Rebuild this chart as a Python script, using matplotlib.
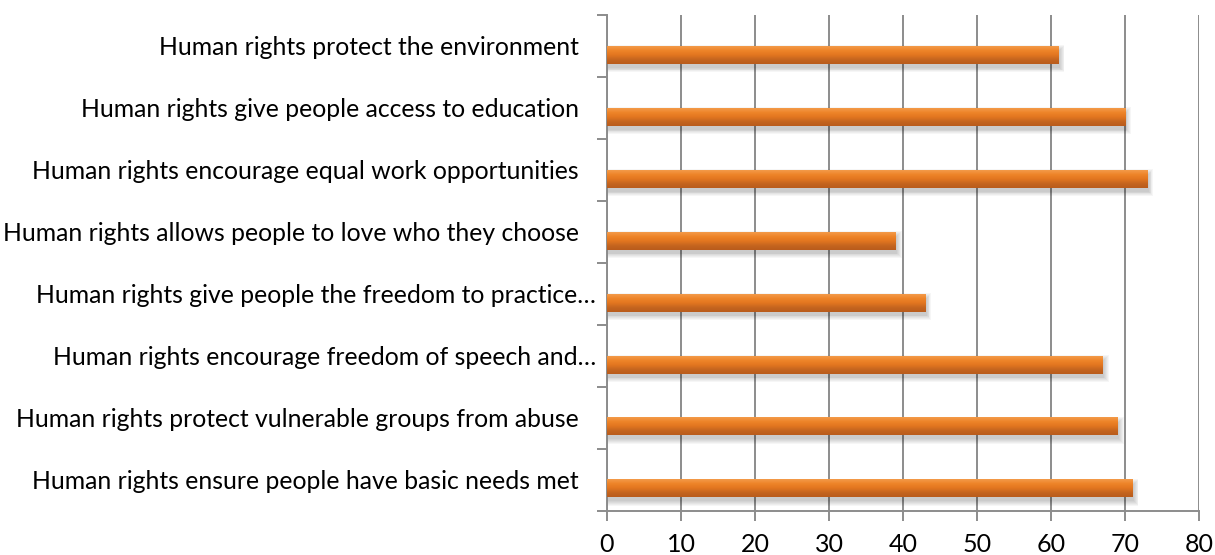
import numpy as np
import matplotlib
matplotlib.use("Agg")
import matplotlib.pyplot as plt
import matplotlib.transforms as mtransforms
from matplotlib.colors import LinearSegmentedColormap
from matplotlib.patches import Rectangle

plt.rcParams['font.family'] = ['Lato', 'DejaVu Sans']

# statements, top to bottom
statements = [
    "Human rights protect the environment",
    "Human rights give people access to education",
    "Human rights encourage equal work opportunities",
    "Human rights allows people to love who they choose",
    "Human rights give people the freedom to practice…",
    "Human rights encourage freedom of speech and…",
    "Human rights protect vulnerable groups from abuse",
    "Human rights ensure people have basic needs met",
]
values = [61, 70, 73, 39, 43, 67, 69, 71]
x_ticks = [0, 10, 20, 30, 40, 50, 60, 70, 80]

GRID = '#8c8c8c'
bar_cmap = LinearSegmentedColormap.from_list(
    'bar', ['#f39a4a', '#ee8428', '#e27620', '#c5651f', '#b95c1c'])

fig = plt.figure(figsize=(12.15, 5.55), dpi=100)
ax = fig.add_axes([607 / 1215, 1 - 510.7 / 555, 592 / 1215, 495.7 / 555])

bar_h = 0.286
bar_off = 0.143
px_x = 80 / 592.0
px_y = 8 / 495.7

grad = np.linspace(0, 1, 64).reshape(-1, 1)
for i, v in enumerate(values):
    yc = i + bar_off
    # soft drop shadow
    for k in range(6):
        grow = k * 0.9
        ax.add_patch(Rectangle((0, yc - bar_h / 2 + 4 * px_y - grow * px_y),
                               v + (1.5 + grow) * px_x,
                               bar_h + 2 * grow * px_y,
                               color='#000000', alpha=0.035, lw=0, zorder=2))
    ax.imshow(grad, cmap=bar_cmap, aspect='auto', origin='upper',
              extent=(0, v, yc + bar_h / 2, yc - bar_h / 2),
              interpolation='bilinear', zorder=3)

ax.set_xlim(0, 80)
ax.set_ylim(7.5, -0.5)

ax.set_xticks(x_ticks)
ax.set_xticklabels([str(t) for t in x_ticks])
ax.xaxis.grid(True, color=GRID, lw=1.4)
ax.set_axisbelow(True)

ax.set_yticks(np.arange(len(statements)))
ax.set_yticklabels(statements)
ax.set_yticks(np.arange(-0.5, len(statements)), minor=True)
ax.tick_params(axis='y', which='major', length=0, pad=8, labelsize=17.8)
ax.tick_params(axis='y', which='minor', length=7, width=1.4, color=GRID)
ax.tick_params(axis='x', length=7, width=1.4, color=GRID, pad=9, labelsize=18)

# full-length labels sit a little further from the axis than truncated ones
for lab in ax.get_yticklabels():
    if not lab.get_text().endswith('…'):
        lab.set_transform(lab.get_transform() +
                          mtransforms.ScaledTranslation(-17 / 100, 0, fig.dpi_scale_trans))

for side in ['top', 'right']:
    ax.spines[side].set_visible(False)
for side in ['left', 'bottom']:
    ax.spines[side].set_color(GRID)
    ax.spines[side].set_linewidth(1.4)

fig.savefig('out.png', dpi=100)
